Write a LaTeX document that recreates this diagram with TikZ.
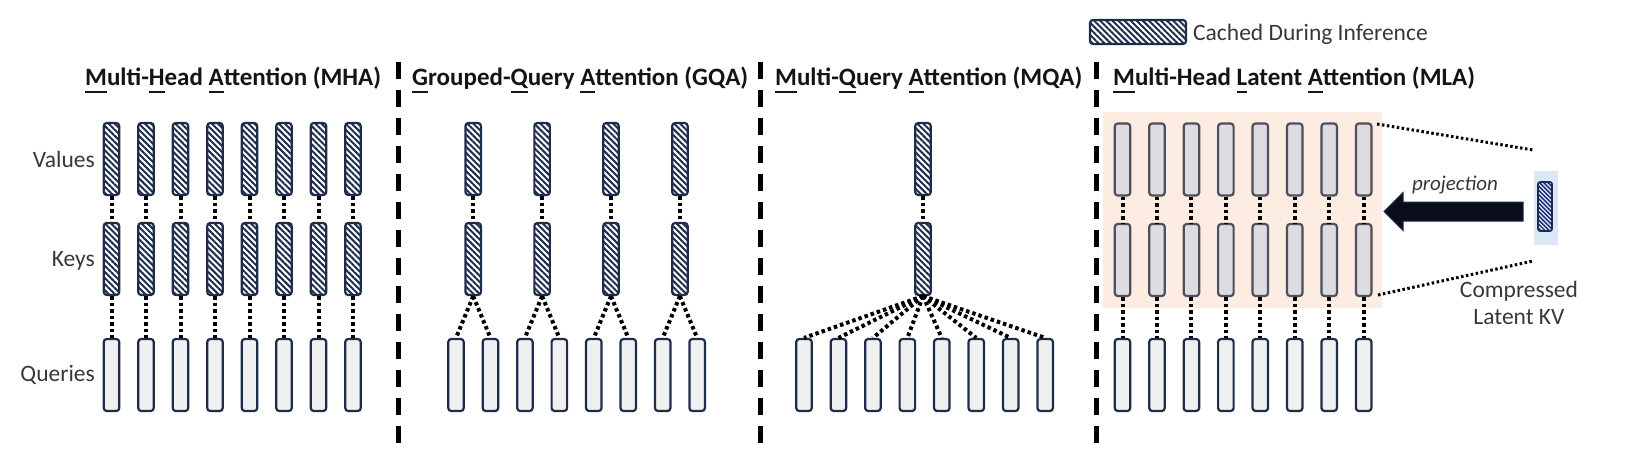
\documentclass[tikz,border=0pt]{standalone}
\usepackage{fontspec}
\setmainfont{Carlito}
\usetikzlibrary{patterns.meta,calc}
\definecolor{navy}{RGB}{30,44,76}
\definecolor{qfill}{RGB}{240,240,240}
\definecolor{mfill}{RGB}{221,221,225}
\definecolor{mline}{RGB}{78,78,92}
\definecolor{pinkbg}{RGB}{252,236,226}
\definecolor{bluebg}{RGB}{218,231,245}
\definecolor{tcol}{RGB}{20,20,20}
\definecolor{lcol}{RGB}{55,55,60}
\definecolor{arrfill}{RGB}{10,14,26}
\newcommand\ulet[1]{\setbox0\hbox{#1}\rlap{\rule[-8pt]{\wd0}{2pt}}\box0}
\begin{document}
\begin{tikzpicture}[x=1pt,y=-1pt,
  barbase/.style={line width=2.2pt, rounded corners=3pt, minimum width=15.5pt, minimum height=72pt, inner sep=0pt},
  cached/.style={barbase, draw=navy, pattern={Lines[angle=-45,distance=4.3pt,line width=2pt]}, pattern color=navy},
  query/.style={barbase, draw=navy, fill=qfill},
  latentbar/.style={barbase, draw=mline, fill=mfill},
  dotc/.style={line width=4pt, dash pattern=on 3.5pt off 3pt},
  thindot/.style={line width=3pt, dash pattern=on 2.5pt off 2.5pt},
  divider/.style={line width=5pt, dash pattern=on 17pt off 11pt},
  title/.style={anchor=base west, inner sep=0pt, font=\fontsize{25}{30}\selectfont\bfseries, text=tcol},
  lab/.style={anchor=base east, inner sep=0pt, font=\fontsize{23.5}{28}\selectfont, text=lcol},
  txt/.style={anchor=base, inner sep=0pt, font=\fontsize{23.5}{28}\selectfont, text=lcol}
]
\useasboundingbox (0,0) rectangle (1630,459);

% legend
\node[cached, minimum width=96pt, minimum height=24pt] (legbox) at (1138,32) {};
\node[anchor=base west, inner sep=0pt, font=\fontsize{23.5}{28}\selectfont, text=lcol] (legtxt) at (1193,40) {Cached During Inference};

% titles
\node[title] (tmha) at (85,85) {\ulet{M}ulti-\ulet{H}ead \ulet{A}ttention (MHA)};
\node[title] (tgqa) at (412,85) {\ulet{G}rouped-\ulet{Q}uery \ulet{A}ttention (GQA)};
\node[title] (tmqa) at (775,85) {\ulet{M}ulti-\ulet{Q}uery \ulet{A}ttention (MQA)};
\node[title] (tmla) at (1113,85) {\ulet{M}ulti-Head \ulet{L}atent \ulet{A}ttention (MLA)};

% row labels
\node[lab] (lv) at (95,167) {Values};
\node[lab] (lk) at (95,266) {Keys};
\node[lab] (lq) at (95,381) {Queries};

% dividers
\coordinate (d1t) at (398,62); \coordinate (d1b) at (398,447);
\coordinate (d2t) at (760,62); \coordinate (d2b) at (760,447);
\coordinate (d3t) at (1096,62); \coordinate (d3b) at (1096,447);
\draw[divider] (d1t) -- (d1b);
\draw[divider] (d2t) -- (d2b);
\draw[divider] (d3t) -- (d3b);

% MHA
\foreach \i in {1,...,8}{
  \pgfmathsetmacro\xx{111.5+34.5*(\i-1)}
  \node[cached] (mhaV\i) at (\xx,159) {};
  \node[cached] (mhaK\i) at (\xx,259) {};
  \node[query] (mhaQ\i) at (\xx,375) {};
  \draw[dotc] (mhaV\i.south) -- (mhaK\i.north);
  \draw[dotc] (mhaK\i.south) -- (mhaQ\i.north);
}

% GQA
\foreach \i in {1,...,8}{
  \pgfmathsetmacro\xx{456+34.45*(\i-1)}
  \node[query] (gqaQ\i) at (\xx,375) {};
}
\foreach \g/\a/\b in {1/1/2,2/3/4,3/5/6,4/7/8}{
  \pgfmathsetmacro\xx{473.2+68.9*(\g-1)}
  \node[cached] (gqaV\g) at (\xx,159) {};
  \node[cached] (gqaK\g) at (\xx,259) {};
  \draw[dotc] (gqaV\g.south) -- (gqaK\g.north);
  \draw[dotc] (gqaK\g.south) -- (gqaQ\a.north);
  \draw[dotc] (gqaK\g.south) -- (gqaQ\b.north);
}

% MQA
\node[cached] (mqaV) at (923,159) {};
\node[cached] (mqaK) at (923,259) {};
\draw[dotc] (mqaV.south) -- (mqaK.north);
\foreach \i in {1,...,8}{
  \pgfmathsetmacro\xx{804+34.45*(\i-1)}
  \node[query] (mqaQ\i) at (\xx,375) {};
  \draw[dotc] (mqaK.south) -- (mqaQ\i.north);
}

% MLA
\node[fill=pinkbg, minimum width=279pt, minimum height=196pt, inner sep=0pt, anchor=north west] (mlabg) at (1103,112) {};
\foreach \i in {1,...,8}{
  \pgfmathsetmacro\xx{1122.5+34.45*(\i-1)}
  \node[latentbar] (mlaV\i) at (\xx,159.5) {};
  \node[latentbar] (mlaK\i) at (\xx,260) {};
  \node[query] (mlaQ\i) at (\xx,375) {};
  \draw[dotc] (mlaV\i.south) -- (mlaK\i.north);
  \draw[dotc] (mlaK\i.south) -- (mlaQ\i.north);
}

% compressed latent KV
\node[fill=bluebg, minimum width=24pt, minimum height=74pt, inner sep=0pt] (latbg) at (1546,208) {};
\node[barbase, draw=navy, line width=1.6pt, minimum width=14pt, minimum height=49pt, rounded corners=2pt,
      pattern={Lines[angle=-45,distance=3pt,line width=1.3pt]}, pattern color=navy!80!blue] (latent) at (1545,206.5) {};
\coordinate (ptop) at (1377,124);
\coordinate (pbot) at (1378,295);
\coordinate (ctop) at (1533,150);
\coordinate (cbot) at (1533,261);
\draw[thindot] (ptop) -- (ctop);
\draw[thindot] (pbot) -- (cbot);

% projection arrow
\coordinate (atail) at (1523,211.5);
\coordinate (atip) at (1384,211.5);
\filldraw[fill=arrfill, draw=navy, line width=1pt]
  ($(atail)+(0,-9.5)$) -- ($(atip)+(19,-9.5)$) -- ($(atip)+(19,-19)$) -- (atip)
  -- ($(atip)+(19,19)$) -- ($(atip)+(19,9.5)$) -- ($(atail)+(0,9.5)$) -- cycle;
\node[anchor=base, inner sep=0pt, font=\fontsize{21}{25}\selectfont\itshape, text=lcol] (proj) at (1455,190) {projection};
\node[txt] (comp1) at (1519,297) {Compressed};
\node[txt] (comp2) at (1519,324) {Latent KV};
\end{tikzpicture}
\end{document}
